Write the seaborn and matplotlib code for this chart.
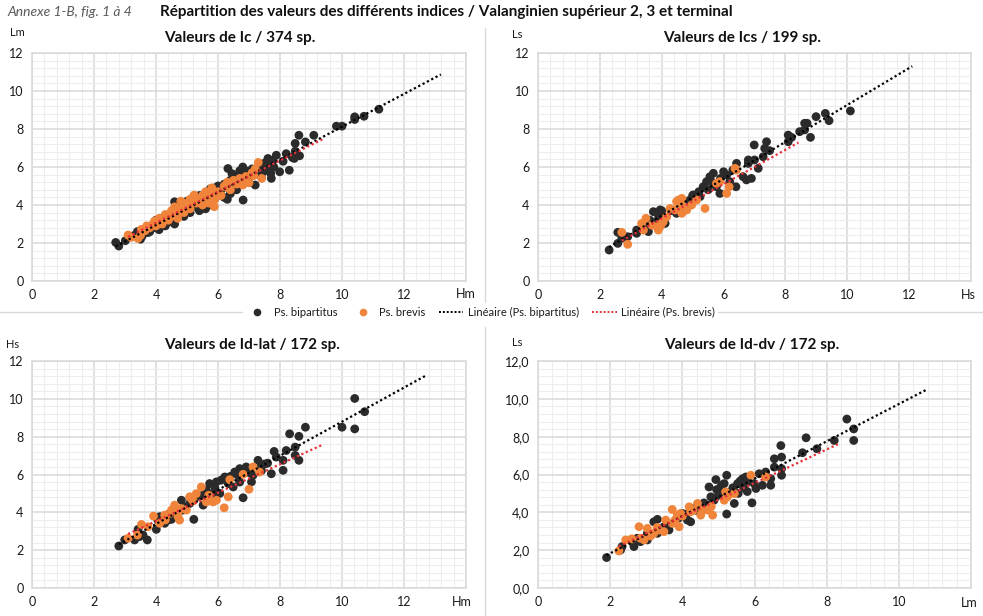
import numpy as np
import pandas as pd
import matplotlib
matplotlib.use('Agg')
import matplotlib.pyplot as plt
import seaborn as sns
from matplotlib.lines import Line2D
from matplotlib.ticker import MultipleLocator, FuncFormatter

# DATA (approximate)
# fig. 1 : Ic, Hm / Lm
ic_bip_x = [2.70, 2.80, 3.01, 3.3, 3.4, 3.5, 3.6, 3.7, 3.8, 3.9, 4.0, 4.0, 4.1, 4.2, 4.2, 4.3, 4.4, 4.4, 4.5, 4.6,
            4.6, 4.7, 4.8, 4.9, 5.0, 5.0, 5.1, 5.2, 5.2, 5.3, 5.4, 5.4, 5.5, 5.6, 5.6, 5.7, 5.8, 5.8, 5.9, 6.0,
            6.0, 6.1, 6.2, 6.2, 6.32, 6.3, 6.4, 6.4, 6.5, 6.6, 6.6, 6.7, 6.7, 6.81, 6.8, 6.8, 6.9, 6.9, 7.0, 7.0,
            7.1, 7.2, 7.2, 7.3, 7.4, 7.5, 7.5, 7.61, 7.7, 7.72, 7.77, 7.8, 7.88, 7.99, 8.1, 8.2, 8.30, 8.4, 8.46, 8.49,
            8.49, 8.61, 8.63, 8.82, 9.09, 9.82, 10.0, 10.41, 10.41, 10.71, 11.19,
            3.55, 3.75, 4.05, 4.35, 4.55, 4.85, 5.05, 5.35, 5.65, 5.95, 6.25, 6.55, 6.75, 6.95, 7.15, 7.35, 7.45,
            7.65, 5.75, 6.45]
ic_bip_y = [2.03, 1.84, 2.12, 2.4, 2.6, 2.2, 2.5, 2.7, 2.6, 2.9, 3.2, 2.8, 2.7, 3.0, 3.3, 2.9, 3.4, 3.1, 3.3, 4.17,
            3.0, 3.6, 3.9, 3.4, 3.8, 4.2, 3.6, 4.1, 4.4, 3.9, 4.5, 3.7, 4.2, 4.6, 3.8, 4.3, 4.7, 4.0, 4.9, 4.5,
            5.0, 4.8, 4.4, 5.1, 5.92, 4.3, 4.6, 5.3, 5.0, 5.5, 4.8, 5.8, 5.2, 4.26, 5.5, 6.0, 5.3, 5.8, 5.6, 5.2,
            5.9, 5.05, 5.7, 6.0, 5.5, 5.8, 6.2, 6.45, 5.66, 5.40, 6.36, 6.0, 6.62, 5.75, 6.3, 6.7, 5.83, 6.5, 6.45, 6.83,
            7.24, 7.67, 6.59, 7.32, 7.67, 8.15, 8.15, 8.50, 8.64, 8.67, 9.04,
            2.35, 2.55, 2.95, 3.25, 3.55, 3.75, 4.05, 4.25, 4.45, 4.75, 4.95, 5.15, 5.45, 5.55, 5.75, 5.85, 6.15,
            6.05, 4.85, 5.65]
ic_bre_x = [3.1, 3.2, 3.42, 3.53, 3.5, 3.7, 3.8, 3.9, 4.0, 4.1, 4.2, 4.3, 4.4, 4.5, 4.5, 4.6, 4.7, 4.7, 4.8, 4.9,
            4.9, 5.0, 5.1, 5.1, 5.2, 5.3, 5.23, 5.4, 5.5, 5.5, 5.6, 5.6, 5.7, 5.8, 5.8, 5.9, 5.88, 6.0, 6.1, 6.2,
            6.3, 6.4, 6.5, 6.6, 6.7, 6.8, 6.9, 7.0, 7.1, 7.2, 7.30, 7.41, 4.8,
            3.65, 3.95, 4.25, 4.65, 5.05, 5.45, 5.75, 6.25, 6.85, 7.15]
ic_bre_y = [2.42, 2.3, 2.24, 2.72, 2.4, 2.9, 2.8, 3.0, 2.9, 3.3, 3.0, 3.5, 3.2, 3.7, 3.4, 3.9, 3.5, 3.3, 3.8, 3.6,
            4.1, 4.0, 3.8, 4.3, 4.4, 4.1, 4.52, 4.2, 4.5, 4.0, 4.7, 4.3, 4.1, 4.6, 4.9, 4.3, 3.91, 4.7, 4.5, 5.0,
            5.2, 4.8, 5.3, 5.1, 5.4, 5.05, 5.5, 5.17, 5.7, 5.9, 6.24, 5.40, 4.2,
            2.65, 3.15, 3.25, 3.65, 3.95, 4.35, 4.55, 4.95, 5.35, 5.55]

# fig. 2 : Ics, Hs / Ls
ics_bip_x = [2.30, 2.58, 2.58, 2.71, 2.90, 3.19, 3.19, 3.52, 3.57, 3.62, 3.73, 3.95, 4.0, 3.84, 4.11, 4.48, 4.7,
             4.91, 5.02, 5.24, 5.34, 5.45, 5.56, 5.67, 5.61, 5.77, 5.88, 6.0, 6.1, 6.2, 6.3, 6.42, 6.4, 6.63, 6.74,
             6.9, 6.8, 6.8, 7.0, 6.99, 7.12, 7.28, 7.33, 7.39, 7.49, 8.09, 8.09, 8.2, 8.46, 8.62, 8.62, 8.7, 8.81,
             8.99, 9.29, 9.41, 10.1, 5.0, 5.2, 5.5, 5.7, 5.9, 4.3, 4.6, 3.9, 4.8, 5.1]
ics_bip_y = [1.63, 1.98, 2.56, 2.25, 2.33, 2.51, 2.68, 2.86, 2.6, 3.2, 3.65, 3.74, 3.7, 3.12, 3.03, 3.56, 3.74,
             4.26, 4.53, 4.44, 4.96, 5.23, 5.49, 5.67, 5.23, 4.96, 4.61, 5.75, 5.58, 5.23, 5.84, 6.19, 4.96, 5.49, 5.32,
             5.4, 6.19, 6.37, 6.37, 7.16, 5.93, 6.54, 6.98, 7.33, 6.86, 7.68, 7.33, 7.56, 7.86, 7.95, 8.3, 8.3, 7.56,
             8.65, 8.82, 8.44, 8.95, 4.5, 4.7, 4.8, 5.1, 5.4, 3.7, 4.1, 3.4, 3.9, 4.3]
ics_bre_x = [2.71, 2.9, 3.35, 3.41, 3.49, 3.68, 3.89, 3.95, 4.05, 4.16, 4.27, 4.43, 4.54, 4.65, 4.70, 4.81, 4.97,
             5.13, 5.40, 5.77, 5.88, 6.1, 6.18, 6.37, 6.42, 4.59, 4.48, 4.65, 3.84, 4.0]
ics_bre_y = [2.56, 1.93, 3.03, 2.68, 3.3, 2.94, 2.68, 2.86, 3.12, 3.38, 3.82, 3.74, 4.26, 4.35, 3.91, 3.74, 4.0,
             4.26, 3.82, 5.14, 5.23, 4.61, 4.96, 5.93, 5.84, 4.09, 4.18, 3.56, 2.86, 3.03]

# fig. 3 : Id-lat, Hm / Hs
idl_bip_x = [2.80, 2.99, 3.31, 3.42, 3.47, 3.58, 3.72, 4.01, 4.06, 4.12, 4.28, 4.39, 4.5, 4.66, 4.82, 4.87, 5.22,
             5.09, 5.30, 5.52, 5.62, 5.73, 5.84, 5.95, 6.06, 6.22, 6.33, 6.49, 6.54, 6.65, 6.7, 6.81, 6.91, 7.08,
             7.13, 7.29, 7.40, 7.5, 7.72, 7.81, 7.88, 8.1, 8.1, 8.2, 8.31, 8.49, 8.49, 8.61, 8.61, 8.82, 10.0,
             10.41, 10.41, 10.73, 4.4, 4.9, 5.1, 5.5, 5.9, 6.1, 6.4, 6.7, 7.0, 7.4, 7.6]
idl_bip_y = [2.22, 2.54, 2.54, 3.1, 2.72, 2.8, 2.54, 3.10, 3.59, 3.77, 3.42, 3.59, 3.63, 3.85, 4.64, 4.12, 3.63,
             4.47, 4.82, 4.38, 5.17, 5.52, 5.0, 5.61, 5.0, 5.87, 5.52, 5.34, 6.13, 5.96, 6.31, 4.77, 6.4, 5.61,
             5.96, 6.75, 6.48, 6.55, 6.04, 7.22, 6.92, 6.75, 6.22, 7.27, 8.15, 7.45, 7.01, 8.02, 6.75, 8.5, 8.5,
             10.02, 8.41, 9.32, 3.9, 4.3, 4.8, 4.9, 5.3, 5.7, 5.9, 5.6, 6.1, 6.2, 6.6]
idl_bre_x = [3.1, 3.4, 3.53, 3.74, 3.92, 4.12, 4.28, 4.44, 4.5, 4.6, 4.71, 4.76, 4.82, 4.98, 5.09, 5.15, 5.30,
             5.46, 5.62, 5.84, 5.95, 6.2, 6.33, 6.38, 6.81, 7.0, 7.13, 7.34, 4.3, 4.7, 5.2, 5.7]
idl_bre_y = [2.63, 2.8, 3.36, 3.24, 3.8, 3.42, 3.85, 3.94, 4.12, 4.38, 3.77, 3.59, 4.2, 4.12, 4.82, 4.7, 4.99,
             5.34, 4.55, 4.55, 4.64, 4.24, 4.82, 5.73, 6.01, 5.22, 6.4, 6.13, 3.6, 4.0, 4.6, 4.9]

# fig. 4 : Id-dv, Lm / Ls
idd_bip_x = [1.90, 2.29, 2.33, 2.64, 2.66, 2.75, 2.84, 3.03, 3.03, 3.21, 3.31, 3.31, 3.49, 3.63, 4.0, 4.14, 4.23,
             4.32, 4.51, 4.74, 4.79, 4.74, 4.88, 4.93, 5.06, 5.16, 5.23, 5.23, 5.16, 5.34, 5.44, 5.53, 5.67, 5.76,
             5.8, 5.93, 5.99, 6.04, 6.13, 6.22, 6.31, 6.45, 6.45, 6.55, 6.55, 6.73, 6.75, 6.75, 6.75, 7.33, 7.43,
             7.73, 8.21, 8.56, 8.75, 8.75, 3.9, 4.4, 4.6, 5.0, 5.4, 5.8, 3.6, 4.1,
             4.95, 5.1, 5.6, 5.7, 5.55]
idd_bip_y = [1.61, 2.01, 2.19, 2.37, 2.19, 2.63, 2.45, 2.54, 2.89, 3.5, 3.63, 2.89, 3.24, 3.07, 3.94, 3.59, 3.5,
             4.2, 4.38, 5.34, 4.82, 4.38, 4.64, 5.73, 5.34, 5.52, 5.96, 3.91, 4.99, 5.08, 4.47, 5.52, 5.78, 5.87,
             5.1, 4.5, 5.52, 5.26, 6.04, 5.43, 6.13, 5.43, 5.78, 6.83, 6.39, 7.53, 6.92, 6.31, 5.96, 7.15, 7.94,
             7.36, 7.8, 8.93, 8.41, 7.8, 3.7, 4.1, 4.5, 4.9, 5.3, 5.6, 3.4, 3.9,
             5.2, 5.45, 5.65, 5.3, 5.0]
idd_bre_x = [2.24, 2.43, 2.80, 2.84, 2.94, 3.03, 3.12, 3.21, 3.35, 3.49, 3.54, 3.72, 3.72, 3.86, 3.91, 3.95, 4.19,
             4.23, 4.3, 4.42, 4.51, 4.56, 4.70, 4.84, 4.8, 5.16, 5.25, 5.2, 5.44, 5.9, 6.31, 3.8, 4.0, 3.3, 2.6]
idd_bre_y = [1.96, 2.54, 3.24, 2.63, 2.54, 3.15, 2.75, 2.89, 3.07, 2.98, 3.59, 4.15, 3.42, 3.85, 3.24, 3.94, 4.29,
             4.03, 4.1, 4.47, 3.85, 4.12, 4.12, 3.85, 4.3, 4.64, 4.82, 5.08, 4.99, 5.96, 5.87, 3.6, 3.8, 3.2, 2.6]

titles = ['Valeurs de Ic / 374 sp.', 'Valeurs de Ics / 199 sp.',
          'Valeurs de Id-lat / 172 sp.', 'Valeurs de Id-dv / 172 sp.']
x_units = ['Hm', 'Hs', 'Hm', 'Lm']
y_units = ['Lm', 'Ls', 'Hs', 'Ls']
x_max = [14, 14, 14, 12]
species = ['Ps. bipartitus', 'Ps. brevis']

C_BIP = '#2b2b2b'
C_BRE = '#f0843a'
C_RED = '#e8303a'
GRID = '#d9d9d9'

W, H = 983, 616
sns.set_theme(style='white')
plt.rcParams['font.family'] = ['Lato', 'DejaVu Sans']

fig = plt.figure(figsize=(W / 100, H / 100), dpi=100)


def px_axes(l, t, r, b):
    return fig.add_axes([l / W, 1 - b / H, (r - l) / W, (b - t) / H])


def fig_text(x, y, s, **kw):
    fig.text(x / W, 1 - y / H, s, **kw)


# pixel boxes of each plot area
boxes = [(32, 53, 466, 281), (538, 53, 971, 281), (32, 361, 466, 588), (538, 361, 971, 588)]
title_pos = [(240, 38), (742, 38), (252, 345), (752, 345)]
yunit_pos = [(17, 33), (517, 34), (13, 344), (517, 343)]
xunit_pos = [(466, 294), (968, 295), (462, 602), (969, 603)]

panels = [(ic_bip_x, ic_bip_y, ic_bre_x, ic_bre_y),
          (ics_bip_x, ics_bip_y, ics_bre_x, ics_bre_y),
          (idl_bip_x, idl_bip_y, idl_bre_x, idl_bre_y),
          (idd_bip_x, idd_bip_y, idd_bre_x, idd_bre_y)]

for i, (bx, by, ox, oy) in enumerate(panels):
    ax = px_axes(*boxes[i])
    df = pd.DataFrame({'x': bx + ox, 'y': by + oy,
                       'sp': [species[0]] * len(bx) + [species[1]] * len(ox)})
    sns.scatterplot(data=df, x='x', y='y', hue='sp', palette=[C_BIP, C_BRE],
                    s=40, linewidth=0, alpha=1, legend=False, ax=ax, zorder=3)

    # linear trendlines, forward forecast of 2 units like Excel
    for xs, ys, col in [(bx, by, 'black'), (ox, oy, C_RED)]:
        a, b = np.polyfit(xs, ys, 1)
        xx = np.array([min(xs), max(xs) + 2])
        ax.plot(xx, a * xx + b, ls=(0, (1, 1.2)), color=col, lw=1.6, zorder=4)

    ax.set_xlim(0, x_max[i])
    ax.set_ylim(0, 12)
    ax.xaxis.set_major_locator(MultipleLocator(2))
    ax.yaxis.set_major_locator(MultipleLocator(2))
    ax.xaxis.set_minor_locator(MultipleLocator(0.4))
    ax.yaxis.set_minor_locator(MultipleLocator(0.4))
    ax.grid(which='major', color=GRID, lw=1.1, zorder=0)
    ax.grid(which='minor', color='#ededed', lw=0.8, zorder=0)
    ax.set_axisbelow(True)
    for sp in ax.spines.values():
        sp.set_color(GRID)
        sp.set_linewidth(1.1)
    ax.tick_params(which='both', length=0, labelsize=9, colors='#1a1a1a', pad=6)
    lim = x_max[i]
    ax.xaxis.set_major_formatter(FuncFormatter(lambda v, p, lim=lim: '' if v >= lim - 0.01 else f'{v:.0f}'))
    if i == 3:
        ax.yaxis.set_major_formatter(FuncFormatter(lambda v, p: f'{v:.1f}'.replace('.', ',')))
    else:
        ax.yaxis.set_major_formatter(FuncFormatter(lambda v, p: f'{v:.0f}'))
    ax.set_xlabel('')
    ax.set_ylabel('')

    fig_text(*title_pos[i], titles[i], ha='center', va='center', fontsize=11, fontweight='bold', color='#111111')
    fig_text(*yunit_pos[i], y_units[i], ha='center', va='center', fontsize=8, color='#1a1a1a')
    fig_text(*xunit_pos[i], x_units[i], ha='center', va='center', fontsize=9, color='#1a1a1a')

# header
fig_text(7, 12, 'Annexe 1-B, fig. 1 à 4', ha='left', va='center', fontsize=10, style='italic', color='#595959')
fig_text(160, 12, 'Répartition des valeurs des différents indices / Valanginien supérieur 2, 3 et terminal',
         ha='left', va='center', fontsize=11, fontweight='bold', color='#111111')

# frame lines between the charts
fig.add_artist(Line2D([485 / W, 485 / W], [1 - 28 / H, 1 - 302 / H], color=GRID, lw=1))
fig.add_artist(Line2D([485 / W, 485 / W], [1 - 327 / H, 0], color=GRID, lw=1))
fig.add_artist(Line2D([0, 242 / W], [1 - 312 / H, 1 - 312 / H], color=GRID, lw=1))
fig.add_artist(Line2D([718 / W, 1], [1 - 312 / H, 1 - 312 / H], color=GRID, lw=1))

handles = [Line2D([], [], ls='none', marker='o', ms=4.5, color=C_BIP),
           Line2D([], [], ls='none', marker='o', ms=4.5, color=C_BRE),
           Line2D([], [], ls=(0, (1, 1)), lw=1.4, color='black'),
           Line2D([], [], ls=(0, (1, 1)), lw=1.4, color=C_RED)]
labels = ['Ps. bipartitus', 'Ps. brevis', 'Linéaire (Ps. bipartitus)', 'Linéaire (Ps. brevis)']
fig.legend(handles, labels, loc='center', bbox_to_anchor=(480 / W, 1 - 312 / H), ncol=4, frameon=False,
           fontsize=8, handlelength=2.2, handletextpad=0.4, columnspacing=1.2, labelcolor='#1a1a1a')

plt.savefig('out.png', dpi=100)
